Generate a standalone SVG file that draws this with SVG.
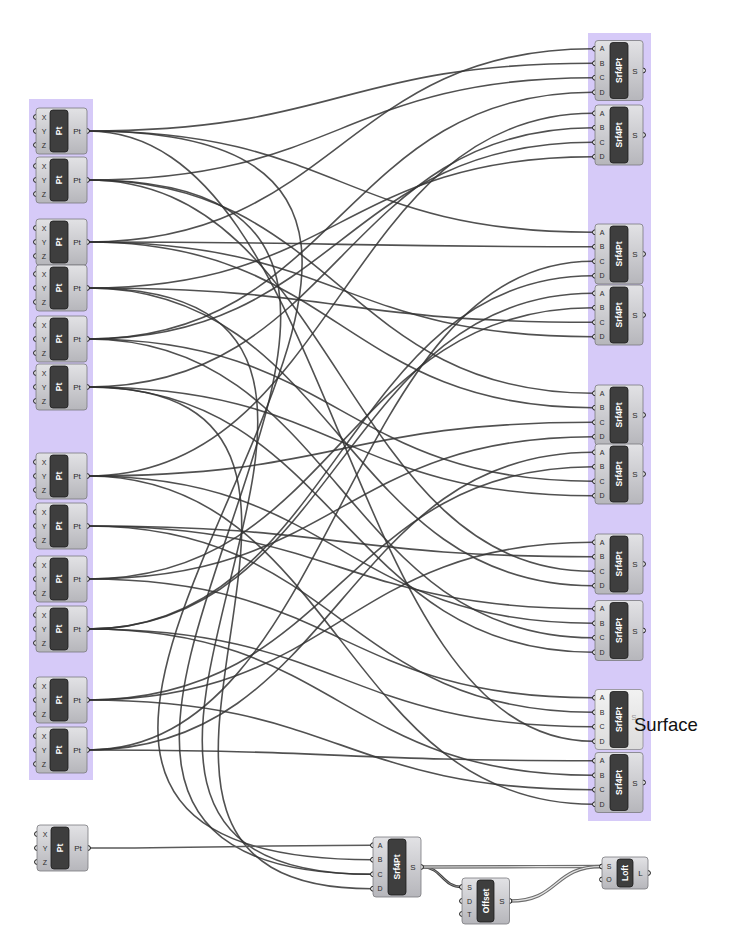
<svg xmlns="http://www.w3.org/2000/svg" xmlns:xlink="http://www.w3.org/1999/xlink" width="730" height="949" viewBox="0 0 730 949">
<style>
.grp{fill:#d6caf8}
.body{fill:url(#gb);stroke:#7a7a7e;stroke-width:0.8}
.bodyL{fill:url(#gl);stroke:#8a8a8e;stroke-width:0.8}
.cap{fill:#3e3e3e;stroke:#1c1c1c;stroke-width:0.8}
.lb{font-family:"Liberation Sans",Arial,sans-serif;font-size:7px;fill:#2a2a2a;text-anchor:middle}
.ol{font-family:"Liberation Sans",Arial,sans-serif;font-size:8px;fill:#2a2a2a;text-anchor:middle}
.cl{font-family:"Liberation Sans",Arial,sans-serif;font-size:8.5px;font-weight:bold;fill:#ffffff;text-anchor:middle}
.port{fill:#ffffff;stroke:#111111;stroke-width:1}
.w{fill:none;stroke:#333333;stroke-width:1.6;stroke-opacity:0.85}
.wb{fill:none;stroke:#5a5a5a;stroke-width:1.5}
.dw1{fill:none;stroke:#6e6e6e;stroke-width:3.4}
.dw2{fill:none;stroke:#e4e4e4;stroke-width:1.2}
.dk1{fill:none;stroke:#444444;stroke-width:2.6}
.dk2{fill:none;stroke:#9a9a9a;stroke-width:0.8}
</style>
<defs>
<linearGradient id="gb" x1="0" y1="0" x2="0" y2="1"><stop offset="0" stop-color="#e2e2e5"/><stop offset="1" stop-color="#b6b6bb"/></linearGradient>
<linearGradient id="gl" x1="0" y1="0" x2="0" y2="1"><stop offset="0" stop-color="#f2f2f2"/><stop offset="1" stop-color="#dcdcdc"/></linearGradient>
<g id="ptT">
<circle class="port" cx="36" cy="-14" r="2.4"/><circle class="port" cx="36" cy="0" r="2.4"/><circle class="port" cx="36" cy="14" r="2.4"/><circle class="port" cx="87" cy="0" r="2.4"/>
<rect class="body" x="36" y="-23" width="51" height="46" rx="3"/>
<rect class="cap" x="50" y="-21" width="18" height="42" rx="3"/>
<text class="lb" x="44" y="-11.5">X</text><text class="lb" x="44" y="2.5">Y</text><text class="lb" x="44" y="16.5">Z</text>
<text class="ol" x="77" y="3">Pt</text>
<text class="cl" x="0" y="3" transform="translate(59 0) rotate(-90)">Pt</text>
</g>
<g id="srfT">
<circle class="port" cx="0" cy="-21.75" r="2.4"/><circle class="port" cx="0" cy="-7.25" r="2.4"/><circle class="port" cx="0" cy="7.25" r="2.4"/><circle class="port" cx="0" cy="21.75" r="2.4"/><circle class="port" cx="48" cy="0" r="2.4"/>
<rect class="body" x="0" y="-30" width="48" height="60" rx="3"/>
<rect class="cap" x="15" y="-28" width="18" height="56" rx="3"/>
<text class="lb" x="7" y="-19.25">A</text><text class="lb" x="7" y="-4.75">B</text><text class="lb" x="7" y="9.75">C</text><text class="lb" x="7" y="24.25">D</text>
<text class="ol" x="40" y="3">S</text>
<text class="cl" x="0" y="3" transform="translate(24 0) rotate(-90)">Srf4Pt</text>
</g>
</defs>
<rect width="730" height="949" fill="#ffffff"/>
<rect class="grp" x="29" y="99" width="64" height="681"/>
<rect class="grp" x="588" y="33" width="63" height="788"/>
<g id="connectors">
<path class="w" d="M88 242C338 242 343 48.75 593 48.75"/>
<path class="w" d="M88 131C338 131 343 63.25 593 63.25"/>
<path class="w" d="M88 180C338 180 343 77.75 593 77.75"/>
<path class="w" d="M88 339C338 339 343 92.25 593 92.25"/>
<path class="w" d="M88 476C338 476 343 113.25 593 113.25"/>
<path class="w" d="M88 387C338 387 343 127.75 593 127.75"/>
<path class="w" d="M88 339C338 339 343 142.25 593 142.25"/>
<path class="w" d="M88 288C338 288 343 156.75 593 156.75"/>
<path class="w" d="M88 131C338 131 343 232.25 593 232.25"/>
<path class="w" d="M88 242C338 242 343 246.75 593 246.75"/>
<path class="w" d="M88 750C338 750 343 261.25 593 261.25"/>
<path class="w" d="M88 629C338 629 343 275.75 593 275.75"/>
<path class="w" d="M88 629C338 629 343 293.25 593 293.25"/>
<path class="w" d="M88 579C338 579 343 307.75 593 307.75"/>
<path class="w" d="M88 288C338 288 343 322.25 593 322.25"/>
<path class="w" d="M88 242C338 242 343 336.75 593 336.75"/>
<path class="w" d="M88 180C338 180 343 393.25 593 393.25"/>
<path class="w" d="M88 242C338 242 343 407.75 593 407.75"/>
<path class="w" d="M88 476C338 476 343 422.25 593 422.25"/>
<path class="w" d="M88 579C338 579 343 436.75 593 436.75"/>
<path class="w" d="M88 750C338 750 343 452.25 593 452.25"/>
<path class="w" d="M88 700C338 700 343 466.75 593 466.75"/>
<path class="w" d="M88 339C338 339 343 481.25 593 481.25"/>
<path class="w" d="M88 387C338 387 343 495.75 593 495.75"/>
<path class="w" d="M88 700C338 700 343 542.25 593 542.25"/>
<path class="w" d="M88 526C338 526 343 556.75 593 556.75"/>
<path class="w" d="M88 180C338 180 343 571.25 593 571.25"/>
<path class="w" d="M88 288C338 288 343 585.75 593 585.75"/>
<path class="w" d="M88 526C338 526 343 608.75 593 608.75"/>
<path class="w" d="M88 476C338 476 343 623.25 593 623.25"/>
<path class="w" d="M88 339C338 339 343 637.75 593 637.75"/>
<path class="w" d="M88 387C338 387 343 652.25 593 652.25"/>
<path class="w" d="M88 579C338 579 343 697.75 593 697.75"/>
<path class="w" d="M88 526C338 526 343 712.25 593 712.25"/>
<path class="w" d="M88 629C338 629 343 726.75 593 726.75"/>
<path class="w" d="M88 131C338 131 343 741.25 593 741.25"/>
<path class="w" d="M88 750C338 750 343 760.75 593 760.75"/>
<path class="w" d="M88 629C338 629 343 775.25 593 775.25"/>
<path class="w" d="M88 700C338 700 343 789.75 593 789.75"/>
<path class="w" d="M88 476C338 476 343 804.25 593 804.25"/>
<path class="w" d="M88 131C688 131 -228 859.75 372 859.75"/>
<path class="w" d="M88 180C608 180 -148 874.25 372 874.25"/>
<path class="w" d="M88 288C518 288 -58 874.25 372 874.25"/>
<path class="w" d="M88 387C448 387 12 888.75 372 888.75"/>
<path class="wb" d="M89 848C200 848 260 845.25 372 845.25"/>
<path class="dk1" d="M422 867C442 867 442 887 462 887"/>
<path class="dk2" d="M422 867C442 867 442 887 462 887"/>
<path class="dw1" d="M422 867C500 867 540 866.5 602 866.5"/>
<path class="dw2" d="M422 867C500 867 540 866.5 602 866.5"/>
<path class="dw1" d="M510 901C560 901 552 866.5 602 866.5"/>
<path class="dw2" d="M510 901C560 901 552 866.5 602 866.5"/>
</g>
<g id="pt1" transform="translate(0 131)"><use xlink:href="#ptT"/></g>
<g id="pt2" transform="translate(0 180)"><use xlink:href="#ptT"/></g>
<g id="pt3" transform="translate(0 242)"><use xlink:href="#ptT"/></g>
<g id="pt4" transform="translate(0 288)"><use xlink:href="#ptT"/></g>
<g id="pt5" transform="translate(0 339)"><use xlink:href="#ptT"/></g>
<g id="pt6" transform="translate(0 387)"><use xlink:href="#ptT"/></g>
<g id="pt7" transform="translate(0 476)"><use xlink:href="#ptT"/></g>
<g id="pt8" transform="translate(0 526)"><use xlink:href="#ptT"/></g>
<g id="pt9" transform="translate(0 579)"><use xlink:href="#ptT"/></g>
<g id="pt10" transform="translate(0 629)"><use xlink:href="#ptT"/></g>
<g id="pt11" transform="translate(0 700)"><use xlink:href="#ptT"/></g>
<g id="pt12" transform="translate(0 750)"><use xlink:href="#ptT"/></g>
<g id="pt13" transform="translate(1 848)"><use xlink:href="#ptT"/></g>
<g id="srf1" transform="translate(595 70.5)"><use xlink:href="#srfT"/></g>
<g id="srf2" transform="translate(595 135)"><use xlink:href="#srfT"/></g>
<g id="srf3" transform="translate(595 254)"><use xlink:href="#srfT"/></g>
<g id="srf4" transform="translate(595 315)"><use xlink:href="#srfT"/></g>
<g id="srf5" transform="translate(595 415)"><use xlink:href="#srfT"/></g>
<g id="srf6" transform="translate(595 474)"><use xlink:href="#srfT"/></g>
<g id="srf7" transform="translate(595 564)"><use xlink:href="#srfT"/></g>
<g id="srf8" transform="translate(595 630.5)"><use xlink:href="#srfT"/></g>
<g id="srf9" transform="translate(595 719.5)">
<circle class="port" cx="0" cy="-21.75" r="2.4"/><circle class="port" cx="0" cy="-7.25" r="2.4"/><circle class="port" cx="0" cy="7.25" r="2.4"/><circle class="port" cx="0" cy="21.75" r="2.4"/>
<rect class="bodyL" x="0" y="-30" width="48" height="60" rx="3"/>
<rect class="cap" x="15" y="-28" width="18" height="56" rx="3"/>
<text class="lb" x="7" y="-19.25">A</text><text class="lb" x="7" y="-4.75">B</text><text class="lb" x="7" y="9.75">C</text><text class="lb" x="7" y="24.25">D</text>
<text class="ol" x="39" y="0" fill-opacity="0.45">S</text>
<text class="cl" x="0" y="3" transform="translate(24 0) rotate(-90)">Srf4Pt</text>
</g>
<g id="srf10" transform="translate(595 782.5)"><use xlink:href="#srfT"/></g>
<g id="srf11" transform="translate(373 867)"><use xlink:href="#srfT"/></g>
<g id="offset" transform="translate(462 901)">
<circle class="port" cx="0" cy="-14" r="2.4"/><circle class="port" cx="0" cy="0" r="2.4"/><circle class="port" cx="0" cy="13" r="2.4"/><circle class="port" cx="47.5" cy="0" r="2.4"/>
<rect class="body" x="0" y="-23" width="47.5" height="46" rx="3"/>
<rect class="cap" x="15" y="-21" width="17" height="42" rx="3"/>
<text class="lb" x="7.5" y="-11.5">S</text><text class="lb" x="7.5" y="2.5">D</text><text class="lb" x="7.5" y="15.5">T</text>
<text class="ol" x="40" y="3">S</text>
<text class="cl" x="0" y="3" transform="translate(23.5 0) rotate(-90)">Offset</text>
</g>
<g id="loft" transform="translate(602 873)">
<circle class="port" cx="0" cy="-6.5" r="2.4"/><circle class="port" cx="0" cy="6.5" r="2.4"/><circle class="port" cx="46" cy="0" r="2.4"/>
<rect class="body" x="0" y="-16" width="46" height="32" rx="3"/>
<rect class="cap" x="15" y="-14" width="16" height="28" rx="3"/>
<text class="lb" x="7" y="-4">S</text><text class="lb" x="7" y="9">O</text>
<text class="ol" x="38.5" y="3">L</text>
<text class="cl" x="0" y="3" transform="translate(23 0) rotate(-90)">Loft</text>
</g>
<text x="634" y="731" font-family="Liberation Sans, Arial, sans-serif" font-size="18.5" fill="#111111">Surface</text>
</svg>
